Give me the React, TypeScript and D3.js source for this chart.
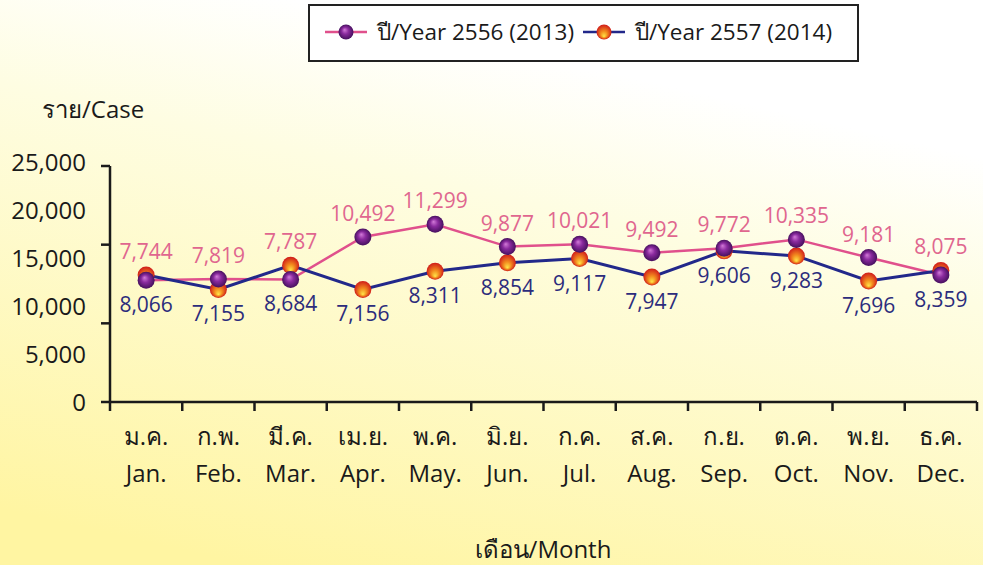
import { useEffect, useRef } from "react";
import * as d3 from "d3";

const monthsThai = ["ม.ค.", "ก.พ.", "มี.ค.", "เม.ย.", "พ.ค.", "มิ.ย.", "ก.ค.", "ส.ค.", "ก.ย.", "ต.ค.", "พ.ย.", "ธ.ค."];
const monthsEng = ["Jan.", "Feb.", "Mar.", "Apr.", "May.", "Jun.", "Jul.", "Aug.", "Sep.", "Oct.", "Nov.", "Dec."];
const cases2013 = [7744, 7819, 7787, 10492, 11299, 9877, 10021, 9492, 9772, 10335, 9181, 8075];
const cases2014 = [8066, 7155, 8684, 7156, 8311, 8854, 9117, 7947, 9606, 9283, 7696, 8359];
// the plotted scale runs 0..15,000 but the printed labels read 0..25,000
const tickValues = [0, 5000, 10000, 15000];
const tickLabelValues = [0, 5000, 10000, 15000, 20000, 25000];
const tickLabels = ["0", "5,000", "10,000", "15,000", "20,000", "25,000"];
const seriesNames = ["ปี/Year 2556 (2013)", "ปี/Year 2557 (2014)"];

const W = 983;
const H = 565;
const FONT = "'Open Sans', 'Noto Sans', 'DejaVu Sans', sans-serif";

export default function App() {
  const svgRef = useRef<SVGSVGElement>(null);

  useEffect(() => {
    const svg = d3.select(svgRef.current);
    svg.selectAll("*").remove();

    const defs = svg.append("defs");
    const bg = defs
      .append("linearGradient")
      .attr("id", "bg")
      .attr("x1", 0.65)
      .attr("y1", 0)
      .attr("x2", 0.25)
      .attr("y2", 1);
    bg.append("stop").attr("offset", 0).attr("stop-color", "#ffffff");
    bg.append("stop").attr("offset", 0.12).attr("stop-color", "#ffffff");
    bg.append("stop").attr("offset", 0.35).attr("stop-color", "#fefde2");
    bg.append("stop").attr("offset", 1).attr("stop-color", "#fff5a2");

    const purple = defs
      .append("radialGradient")
      .attr("id", "purpleBall")
      .attr("fx", 0.4)
      .attr("fy", 0.35);
    purple.append("stop").attr("offset", 0).attr("stop-color", "#d27ad8");
    purple.append("stop").attr("offset", 0.45).attr("stop-color", "#8a2a9e");
    purple.append("stop").attr("offset", 1).attr("stop-color", "#46105e");

    const orange = defs
      .append("radialGradient")
      .attr("id", "orangeBall")
      .attr("fx", 0.5)
      .attr("fy", 0.8);
    orange.append("stop").attr("offset", 0).attr("stop-color", "#ffe84a");
    orange.append("stop").attr("offset", 0.45).attr("stop-color", "#f28a1e");
    orange.append("stop").attr("offset", 1).attr("stop-color", "#d01c1a");

    svg.append("rect").attr("width", W).attr("height", H).attr("fill", "url(#bg)");

    const x = d3.scaleBand().domain(monthsEng).range([110, 977]);
    const y = d3.scaleLinear().domain([0, 15000]).range([402, 166]);
    const yLabel = d3.scaleLinear().domain([0, 25000]).range([403, 163]);
    const cx = (i: number) => (x(monthsEng[i]) as number) + x.bandwidth() / 2;

    // axes
    const axis = svg.append("g").attr("stroke", "#1a1a1a").attr("stroke-width", 2.5);
    axis.append("line").attr("x1", 110).attr("x2", 110).attr("y1", y(15000)).attr("y2", y(0));
    axis.append("line").attr("x1", 110).attr("x2", 977).attr("y1", y(0)).attr("y2", y(0));
    axis
      .selectAll(".ytick")
      .data(tickValues)
      .enter()
      .append("line")
      .attr("x1", 101)
      .attr("x2", 110)
      .attr("y1", (d) => y(d))
      .attr("y2", (d) => y(d));
    const edges = monthsEng.map((m) => x(m) as number).concat([977]);
    axis
      .selectAll(".xtick")
      .data(edges)
      .enter()
      .append("line")
      .attr("x1", (d) => d)
      .attr("x2", (d) => d)
      .attr("y1", y(0))
      .attr("y2", y(0) + 9);

    svg
      .append("g")
      .selectAll("text")
      .data(tickLabelValues)
      .enter()
      .append("text")
      .attr("x", 86)
      .attr("y", (d) => yLabel(d) + 8)
      .attr("text-anchor", "end")
      .attr("font-size", 24)
      .attr("fill", "#1a1a1a")
      .text((d, i) => tickLabels[i]);

    const xl = svg.append("g").attr("font-size", 24).attr("fill", "#1a1a1a").attr("text-anchor", "middle");
    xl.selectAll(".th")
      .data(monthsThai)
      .enter()
      .append("text")
      .attr("x", (d, i) => cx(i))
      .attr("y", 445)
      .text((d) => d);
    xl.selectAll(".en")
      .data(monthsEng)
      .enter()
      .append("text")
      .attr("x", (d, i) => cx(i))
      .attr("y", 482)
      .text((d) => d);

    // titles
    svg
      .append("text")
      .attr("x", 42)
      .attr("y", 118)
      .attr("font-size", 24)
      .attr("fill", "#1a1a1a")
      .text("ราย/Case");
    svg
      .append("text")
      .attr("x", 543)
      .attr("y", 558)
      .attr("text-anchor", "middle")
      .attr("font-size", 24)
      .attr("fill", "#1a1a1a")
      .text("เดือน/Month");

    // lines
    const line = d3
      .line<number>()
      .x((d, i) => cx(i))
      .y((d) => y(d));
    svg
      .append("path")
      .datum(cases2013)
      .attr("fill", "none")
      .attr("stroke", "#e0508c")
      .attr("stroke-width", 2.5)
      .attr("d", line);
    svg
      .append("path")
      .datum(cases2014)
      .attr("fill", "none")
      .attr("stroke", "#22288a")
      .attr("stroke-width", 3)
      .attr("d", line);

    svg
      .append("g")
      .selectAll("circle")
      .data(cases2014)
      .enter()
      .append("circle")
      .attr("cx", (d, i) => cx(i))
      .attr("cy", (d) => y(d))
      .attr("r", 8.5)
      .attr("fill", "url(#orangeBall)");
    svg
      .append("g")
      .selectAll("circle")
      .data(cases2013)
      .enter()
      .append("circle")
      .attr("cx", (d, i) => cx(i))
      .attr("cy", (d) => y(d))
      .attr("r", 8.5)
      .attr("fill", "url(#purpleBall)");

    // value labels
    const fmt = d3.format(",");
    svg
      .append("g")
      .selectAll("text")
      .data(cases2013)
      .enter()
      .append("text")
      .attr("x", (d, i) => cx(i))
      .attr("y", (d, i) => Math.min(y(d), y(cases2014[i])) - 16)
      .attr("text-anchor", "middle")
      .attr("font-size", 21)
      .attr("fill", "#e0668f")
      .text((d) => fmt(d));
    svg
      .append("g")
      .selectAll("text")
      .data(cases2014)
      .enter()
      .append("text")
      .attr("x", (d, i) => cx(i))
      .attr("y", (d, i) => Math.max(y(d), y(cases2013[i])) + 32)
      .attr("text-anchor", "middle")
      .attr("font-size", 21)
      .attr("fill", "#2c2c7c")
      .text((d) => fmt(d));

    // legend
    const lg = svg.append("g");
    lg.append("rect")
      .attr("x", 309)
      .attr("y", 5)
      .attr("width", 549)
      .attr("height", 56)
      .attr("fill", "#ffffff")
      .attr("stroke", "#222")
      .attr("stroke-width", 2);
    const items = [
      { name: seriesNames[0], stroke: "#e0508c", ball: "url(#purpleBall)", x0: 325 },
      { name: seriesNames[1], stroke: "#22288a", ball: "url(#orangeBall)", x0: 583 },
    ];
    items.forEach((it) => {
      lg.append("line")
        .attr("x1", it.x0)
        .attr("x2", it.x0 + 42)
        .attr("y1", 32)
        .attr("y2", 32)
        .attr("stroke", it.stroke)
        .attr("stroke-width", 2.5);
      lg.append("circle").attr("cx", it.x0 + 21).attr("cy", 32).attr("r", 7.5).attr("fill", it.ball);
      lg.append("text")
        .attr("x", it.x0 + 52)
        .attr("y", 40)
        .attr("font-size", 22.5)
        .attr("fill", "#1a1a1a")
        .text(it.name);
    });
  }, []);

  return (
    <svg
      ref={svgRef}
      width={W}
      height={H}
      style={{ position: "absolute", left: 0, top: 0, fontFamily: FONT }}
    />
  );
}
